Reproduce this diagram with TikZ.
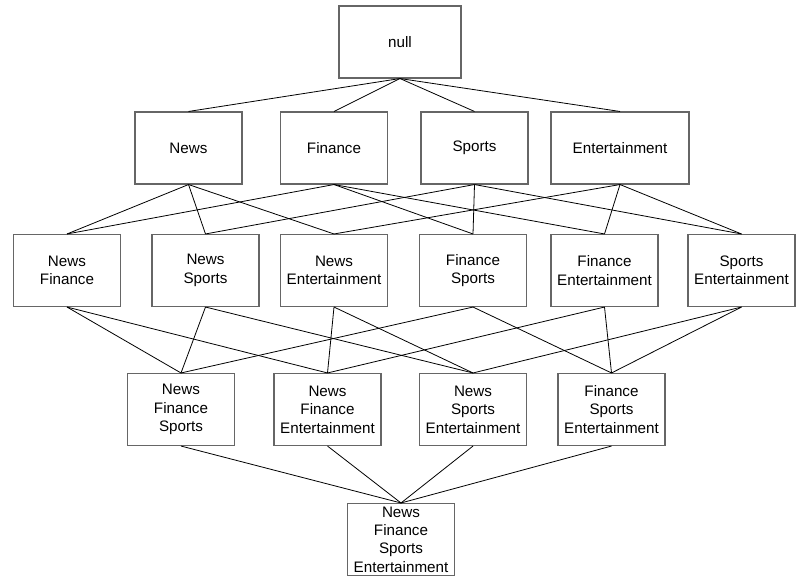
\documentclass[tikz,border=0pt]{standalone}
\usepackage{fontspec}
\setmainfont{Liberation Sans}
\begin{document}
\begin{tikzpicture}[x=0.75pt,y=-0.75pt,
    itembox/.style={draw=black!60,line width=0.8pt,minimum width=80.25pt,minimum height=54pt,
        inner sep=0pt,align=center,font=\fontsize{11.4}{13.8}\selectfont},
    link/.style={line width=0.6pt}]
			    \useasboundingbox (0,0) rectangle (802,582);
			    \node[itembox,minimum width=91.5pt] (O) at (400,42) {null};
			    
			    \node[itembox] (N) at (188.5,148) {News};
		    	\node[itembox] (F) at (334,148) {Finance};
		    	\node[itembox] (S) at (474.5,148) {Sports};
		    	\node[itembox,minimum width=103.5pt] (E) at (620,148) {Entertainment};
		    	
		    	\node[itembox] (NF) at (67,270.5) {News\\Finance};
		    	\node[itembox] (NS) at (205.5,270.5) {News\\Sports};
		    	\node[itembox] (NE) at (334,270.5) {News\\Entertainment};
		    	\node[itembox] (FS) at (473,270.5) {Finance\\Sports};
		    	\node[itembox] (FE) at (604.5,270.5) {Finance\\Entertainment};
		    	\node[itembox] (SE) at (741.5,270.5) {Sports\\Entertainment};
		    	
		    	\node[itembox] (NFS) at (181,409.5) {News\\Finance\\Sports};
		    	\node[itembox] (NFE) at (327.5,409.5) {News\\Finance\\Entertainment};
		    	\node[itembox] (NSE) at (473,409.5) {News\\Sports\\Entertainment};
		    	\node[itembox] (FSE) at (611.5,409.5) {Finance\\Sports\\Entertainment};
		    	
		    	\node[itembox] (NFSE) at (401,539.5) {News\\Finance\\Sports\\Entertainment};
		    	
		    	\draw[link] (O.south)--(N.north);
		    	\draw[link] (O.south)--(F.north);
		    	\draw[link] (O.south)--(S.north);
		    	\draw[link] (O.south)--(E.north);
		    	
		    	\draw[link] (N.south)--(NF.north);
		    	\draw[link] (N.south)--(NS.north);
		    	\draw[link] (N.south)--(NE.north);
		    	\draw[link] (F.south)--(NF.north);
		    	\draw[link] (F.south)--(FS.north);
		    	\draw[link] (F.south)--(FE.north);
		    	\draw[link] (S.south)--(NS.north);
		    	\draw[link] (S.south)--(FS.north);
		    	\draw[link] (S.south)--(SE.north);
		    	\draw[link] (E.south)--(NE.north);
		    	\draw[link] (E.south)--(FE.north);
		    	\draw[link] (E.south)--(SE.north);
		    	
		    	\draw[link] (NF.south)--(NFS.north);
		    	\draw[link] (NF.south)--(NFE.north);
		    	\draw[link] (NS.south)--(NFS.north);
		    	\draw[link] (NS.south)--(NSE.north);
		    	\draw[link] (NE.south)--(NFE.north);
		    	\draw[link] (NE.south)--(NSE.north);
		    	\draw[link] (FS.south)--(NFS.north);
		    	\draw[link] (FS.south)--(FSE.north);
		    	\draw[link] (FE.south)--(NFE.north);
		    	\draw[link] (FE.south)--(FSE.north);
	    	    \draw[link] (SE.south)--(NSE.north);
	    	    \draw[link] (SE.south)--(FSE.north);
	    	    
	    	    \draw[link] (NFS.south)--(NFSE.north);
	    	    \draw[link] (NFE.south)--(NFSE.north);
	    	    \draw[link] (NSE.south)--(NFSE.north);
	    	    \draw[link] (FSE.south)--(NFSE.north);
		    \end{tikzpicture}
\end{document}
